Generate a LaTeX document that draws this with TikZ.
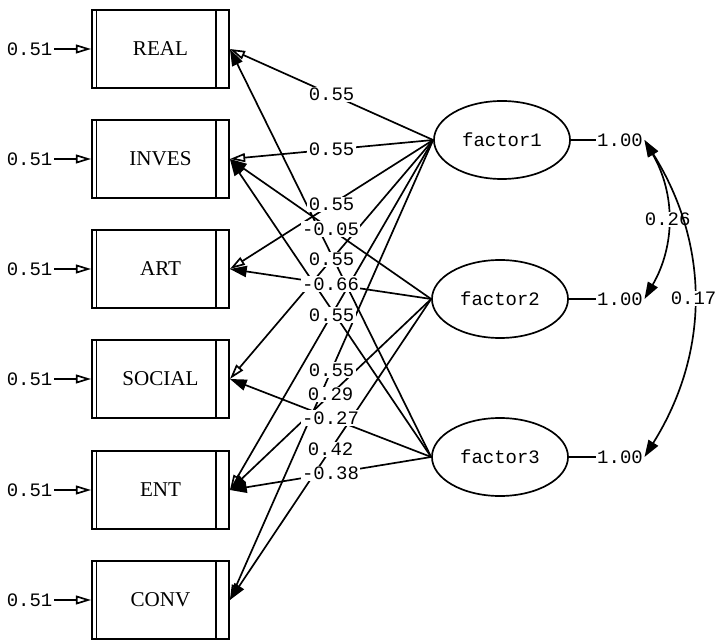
\documentclass[tikz,border=0pt]{standalone}
\usepackage{fontspec}
\setmainfont{Liberation Serif}
\setmonofont{Liberation Mono}
\usetikzlibrary{arrows.meta,shapes,calc}
\tikzset{
  obs/.style={draw, line width=1.3pt, rectangle, minimum width=3.425cm, minimum height=1.95cm, inner sep=0pt, font=\fontsize{15}{17}\selectfont},
  lat/.style={draw, line width=1.2pt, ellipse, minimum width=3.4cm, minimum height=1.95cm, inner sep=0pt, font=\ttfamily\fontsize{13.5}{15}\selectfont},
  num/.style={inner sep=1pt, fill=white, font=\ttfamily\fontsize{13.5}{15}\selectfont},
  fixed/.style={line width=1.2pt, -{Triangle[open, length=0.38cm, width=0.22cm]}},
  free/.style={line width=1.2pt, -{Triangle[length=0.42cm, width=0.28cm]}},
  cov/.style={line width=1.2pt, {Triangle[length=0.42cm, width=0.28cm]}-{Triangle[length=0.42cm, width=0.28cm]}}
}
\begin{document}
\begin{tikzpicture}[x=0.025cm, y=0.025cm]
\useasboundingbox (0,0) rectangle (724,640);

\node[obs] (REAL)   at (160.5,591) {REAL};
\node[obs] (INVES)  at (160.5,481) {INVES};
\node[obs] (ART)    at (160.5,371) {ART};
\node[obs] (SOCIAL) at (160.5,261) {SOCIAL};
\node[obs] (ENT)    at (160.5,150) {ENT};
\node[obs] (CONV)   at (160.5,40)  {CONV};

\foreach \bx in {REAL,INVES,ART,SOCIAL,ENT,CONV} {
  \draw ([xshift=0.125cm]\bx.north west) -- ([xshift=0.125cm]\bx.south west);
  \draw[line width=1.2pt] ([xshift=-0.35cm]\bx.north east) -- ([xshift=-0.35cm]\bx.south east);
  \node[num, anchor=east] (e\bx) at ($(\bx.west)+(-37,0)$) {0.51};
  \draw[fixed] (e\bx) -- (\bx);
}

\node[lat] (f1) at (502,500) {factor1};
\node[lat] (f2) at (500,341) {factor2};
\node[lat] (f3) at (500,183) {factor3};

\node[num] (v1) at (620,500) {1.00};
\node[num] (v2) at (620,341) {1.00};
\node[num] (v3) at (620,183) {1.00};
\draw[line width=1.2pt] (f1) -- (v1);
\draw[line width=1.2pt] (f2) -- (v2);
\draw[line width=1.2pt] (f3) -- (v3);

\foreach \bx in {REAL,INVES,ART,SOCIAL,ENT,CONV}
  \draw[fixed] (f1.west) -- (\bx.east);
\foreach \fc/\bx in {f2/INVES,f2/ART,f2/ENT,f2/CONV,f3/REAL,f3/INVES,f3/SOCIAL,f3/ENT}
  \draw[free] (\fc.west) -- (\bx.east);

\foreach \fc/\bx/\val in {f2/INVES/-0.05,f2/ART/-0.66,f2/ENT/0.29,f2/CONV/0.42,f3/SOCIAL/-0.27,f3/ENT/-0.38,
    f1/REAL/0.55,f1/INVES/0.55,f1/ART/0.55,f1/SOCIAL/0.55,f1/ENT/0.55,f1/CONV/0.55}
  \path (\fc.west) -- (\bx.east) node[num, midway] (l\fc\bx) {\val};

\draw[cov] (v1.east) to[out=-60, in=60] node[num] (c12) {0.26} (v2.east);
\draw[cov] (v1.east) to[out=-58, in=58] node[num] (c13) {0.17} (v3.east);
\end{tikzpicture}
\end{document}
